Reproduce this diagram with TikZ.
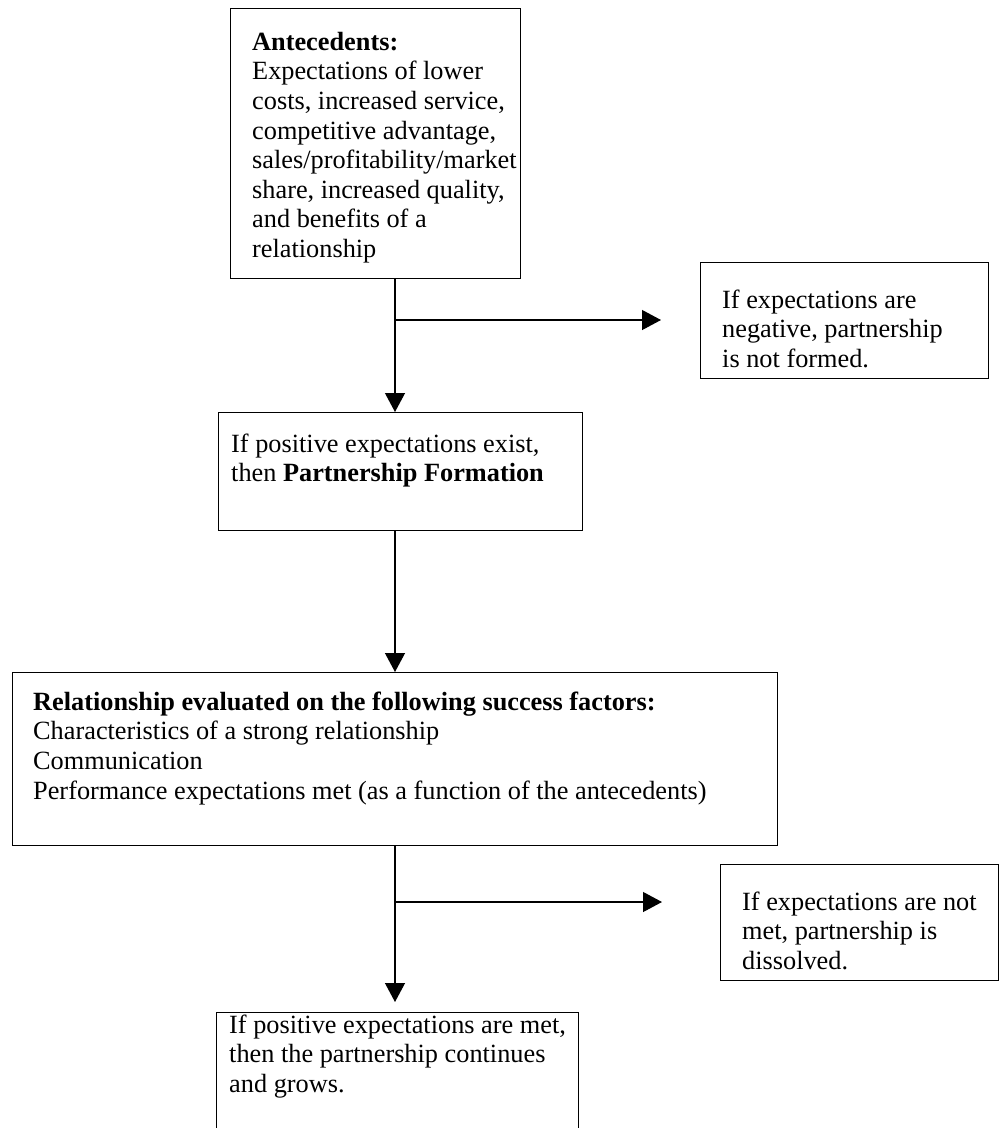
\documentclass[tikz,border=0pt]{standalone}
\usepackage{fontspec}
\setmainfont{Liberation Serif}
\usetikzlibrary{arrows.meta}
\begin{document}
\begin{tikzpicture}[x=1pt,y=-1pt,
  box/.style={draw=black, line width=1.3pt, rectangle, anchor=north west, inner sep=0pt},
  txt/.style={anchor=north west, inner sep=0pt, align=left, font=\fontsize{26.3}{29.6}\selectfont},
  arr/.style={line width=1.2pt, -{Triangle[length=19pt,width=20pt]}}]
\useasboundingbox (0,0) rectangle (999,1128);
\clip (0,0) rectangle (999,1128);
% boxes
\node[box, minimum width=290pt, minimum height=270pt] (A) at (230,8) {};
\node[box, minimum width=288pt, minimum height=116pt] (C) at (700,262) {};
\node[box, minimum width=364pt, minimum height=118pt] (B) at (218,412) {};
\node[box, minimum width=765pt, minimum height=173pt] (D) at (12,672) {};
\node[box, minimum width=278pt, minimum height=116pt] (E) at (720,864) {};
\node[box, minimum width=362pt, minimum height=140pt] (F) at (216,1012) {};
% texts (y = first baseline - 20.7)
\node[txt] (At) at (252,29.3) {\strut\textbf{Antecedents:}\\Expectations of lower\\costs, increased service,\\competitive advantage,\\sales/profitability/market\\share, increased quality,\\and benefits of a\\relationship};
\node[txt] (Ct) at (722,287.3) {\strut If expectations are\\negative, partnership\\is not formed.};
\node[txt] (Bt) at (231,431.3) {\strut If positive expectations exist,\\then \textbf{Partnership Formation}};
\node[txt] (Dt) at (33,689.3) {\strut\textbf{Relationship evaluated on the following success factors:}\\Characteristics of a strong relationship\\Communication\\Performance expectations met (as a function of the antecedents)};
\node[txt] (Et) at (742,889.3) {\strut If expectations are not\\met, partnership is\\dissolved.};
\node[txt] (Ft) at (229,1012.3) {\strut If positive expectations are met,\\then the partnership continues\\and grows.};
% connectors
\coordinate (col) at (395,0);
\coordinate (j1) at (395,320);
\coordinate (t1) at (661,320);
\coordinate (j2) at (395,902);
\coordinate (t2) at (662,902);
\draw[arr] (col |- A.south) -- (col |- B.north);
\draw[arr] (j1) -- (t1);
\draw[arr] (col |- B.south) -- (col |- D.north);
\draw[arr] (col |- D.south) -- ([yshift=10pt]col |- F.north);
\draw[arr] (j2) -- (t2);
\end{tikzpicture}
\end{document}
